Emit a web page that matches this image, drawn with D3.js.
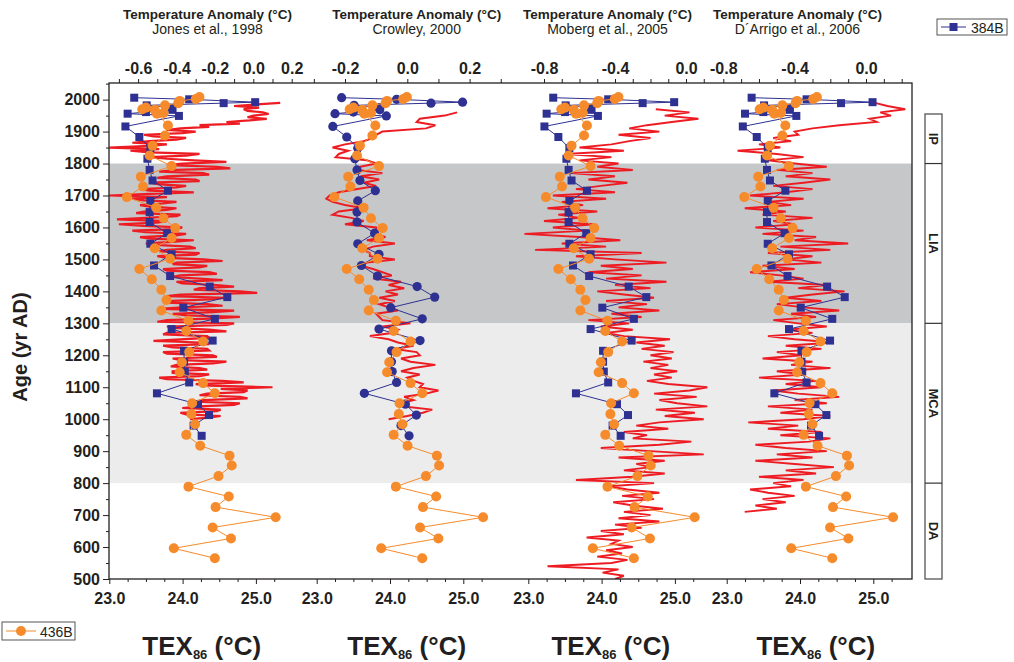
<!DOCTYPE html>
<html>
<head>
<meta charset="utf-8">
<script src="https://cdn.jsdelivr.net/npm/d3@7/dist/d3.min.js"></script>
<style>
  html, body { margin: 0; padding: 0; background: #fff; }
  svg { display: block; }
  text { font-family: "Liberation Sans", Arial, Helvetica, sans-serif; fill: #231f20; }
</style>
</head>
<body>
<svg id="chart" width="1014" height="662"></svg>
<script>
// ---------- Core 384B: TEX86 temperatures (year AD, °C) ----------
const core384BYears = [2006, 2001, 1992, 1989, 1982, 1975, 1968, 1961, 1956, 1949, 1916, 1883, 1848, 1815, 1780, 1747, 1715, 1683, 1648, 1617, 1582, 1549, 1516, 1481, 1448, 1415, 1382, 1349, 1314, 1282, 1246, 1214, 1180, 1149, 1115, 1081, 1047, 1013, 980, 948];
const core384BTex = [23.34, 24.09, 24.99, 24.56, 23.51, 23.86, 23.86, 23.50, 23.25, 23.95, 23.22, 23.41, 23.56, 23.52, 23.55, 23.59, 23.80, 23.56, 23.55, 23.55, 23.79, 23.56, 23.85, 23.61, 23.83, 24.37, 24.61, 24.01, 24.44, 23.85, 24.41, 24.02, 24.02, 24.03, 24.09, 23.65, 24.21, 24.36, 24.15, 24.26];

// ---------- Core 436B: TEX86 temperatures (year AD, °C) ----------
const core436BYears = [2008, 2002, 1996, 1989, 1982, 1975, 1970, 1968, 1958, 1956, 1919, 1888, 1856, 1825, 1792, 1759, 1728, 1695, 1662, 1629, 1598, 1567, 1535, 1502, 1470, 1438, 1405, 1373, 1340, 1308, 1276, 1243, 1210, 1178, 1147, 1113, 1081, 1050, 1016, 984, 951, 917, 886, 855, 822, 789, 758, 725, 693, 661, 627, 596, 565];
const core436BTex = [24.23, 24.18, 23.96, 23.94, 23.76, 23.50, 23.45, 23.62, 23.74, 23.65, 23.80, 23.76, 23.59, 23.55, 23.85, 23.43, 23.46, 23.24, 23.64, 23.74, 23.90, 23.85, 23.62, 23.83, 23.41, 23.58, 23.71, 23.78, 23.71, 24.08, 24.05, 24.28, 24.09, 23.99, 23.96, 24.28, 24.44, 24.13, 24.12, 24.17, 24.05, 24.24, 24.64, 24.67, 24.49, 24.08, 24.63, 24.45, 25.27, 24.41, 24.66, 23.88, 24.44];

// ---------- Northern Hemisphere reconstructions (anomaly °C) ----------
const jonesStart = 1000, jonesStep = 5;
const jonesAnomaly = [
  -0.33, -0.23, -0.17, -0.35, -0.38, -0.19, -0.17, -0.37, -0.28, -0.10,
  -0.07, -0.31, -0.26, -0.03, -0.07, -0.28, -0.24, -0.05, -0.03, -0.17,
   0.10, -0.23, -0.30, -0.05, -0.16, -0.45, -0.49, -0.28, -0.23, -0.42,
  -0.42, -0.24, -0.28, -0.43, -0.40, -0.21, -0.14, -0.38, -0.42, -0.19,
  -0.21, -0.45, -0.47, -0.23, -0.24, -0.42, -0.47, -0.23, -0.28, -0.52,
  -0.38, -0.23, -0.24, -0.47, -0.45, -0.14, -0.23, -0.40, -0.45, -0.14,
  -0.10, -0.50, -0.45, -0.23, -0.07, -0.35, -0.42, -0.21, -0.10, -0.49,
  -0.37, -0.16, -0.24, -0.45, -0.42, -0.23, -0.14, -0.45, -0.38,  0.02,
  -0.07, -0.31, -0.28, -0.10, -0.19, -0.37, -0.40, -0.16, -0.28, -0.43,
  -0.38, -0.19, -0.23, -0.45, -0.47, -0.28, -0.24, -0.42, -0.40, -0.16,
  -0.26, -0.45, -0.50, -0.30, -0.28, -0.49, -0.45, -0.30, -0.33, -0.49,
  -0.56, -0.42, -0.31, -0.54, -0.59, -0.40, -0.35, -0.56, -0.63, -0.40,
  -0.37, -0.57, -0.70, -0.50, -0.45, -0.71, -0.56, -0.40, -0.38, -0.61,
  -0.57, -0.45, -0.40, -0.54, -0.59, -0.47, -0.40, -0.57, -0.63, -0.45,
  -0.75, -0.54, -0.31, -0.54, -0.59, -0.40, -0.35, -0.49, -0.54, -0.28,
  -0.30, -0.50, -0.45, -0.23, -0.26, -0.49, -0.40, -0.12, -0.19, -0.45,
  -0.37, -0.14, -0.31, -0.45, -0.54, -0.35, -0.28, -0.54, -0.64, -0.49,
  -0.75, -0.54, -0.45, -0.63, -0.54, -0.40, -0.35, -0.52, -0.57, -0.37,
  -0.30, -0.45, -0.38, -0.23, -0.28, -0.07, -0.14, -0.02,  0.07, -0.03,
   0.00,  0.08,  0.05, -0.03, -0.05,  0.03, -0.10,  0.02,  0.14
];

const crowleyStart = 1000, crowleyStep = 10;
const crowleyAnomaly = [
  -0.06, 0.00, 0.05, 0.08, -0.01, -0.02, 0.02, -0.01, 0.06, 0.10,
   0.04, 0.05, 0.02, 0.00, 0.04, -0.02, 0.02, 0.09, 0.01, -0.02,
   0.04, 0.03, -0.04, 0.02, -0.03, -0.06, -0.12, -0.05, -0.03, -0.08,
   0.01, -0.08, -0.09, -0.10, -0.03, -0.06, -0.09, -0.04, -0.09, -0.03,
  -0.07, -0.01, -0.06, -0.02, -0.11, -0.05, -0.08, -0.11, -0.15, -0.13,
  -0.04, -0.12, -0.12, -0.14, -0.11, -0.04, -0.13, -0.07, -0.11, -0.10,
  -0.10, -0.20, -0.14, -0.18, -0.24, -0.22, -0.14, -0.20, -0.24, -0.26,
  -0.25, -0.22, -0.16, -0.10, -0.14, -0.09, -0.15, -0.08, -0.16, -0.15,
  -0.10, -0.13, -0.23, -0.22, -0.19, -0.24, -0.20, -0.14, -0.11, -0.10,
  -0.08, 0.06, 0.09, 0.03, 0.04, 0.12, 0.16
];

const mobergStart = 500, mobergStep = 10;
const mobergAnomaly = [
  -0.40, -0.35, -0.47, -0.38, -0.78, -0.42, -0.33, -0.50, -0.36, -0.45,
  -0.30, -0.42, -0.38, -0.56, -0.35, -0.48, -0.25, -0.40, -0.15, -0.38,
  -0.20, -0.35, -0.13, -0.30, -0.41, -0.18, -0.36, -0.15, -0.33, -0.43,
  -0.18, -0.62, -0.30, -0.12, -0.35, -0.20, -0.28, -0.12, -0.38,  0.10,
  -0.20, -0.48, -0.15,  0.03, -0.30, -0.22, -0.35, -0.10, -0.28, -0.15,
   0.10, -0.12,  0.05, -0.17,  0.12, -0.05, -0.15,  0.06, -0.18,  0.02,
   0.12, -0.10, -0.22, -0.08, -0.18, -0.05, -0.20, -0.10, -0.24, -0.08,
  -0.20, -0.07, -0.25, -0.12, -0.28, -0.09, -0.35, -0.45, -0.30, -0.48,
  -0.32, -0.55, -0.25, -0.42, -0.15, -0.38, -0.22, -0.45, -0.18, -0.35,
  -0.50, -0.20, -0.40, -0.11, -0.45, -0.25, -0.55, -0.30, -0.48, -0.11,
  -0.40, -0.62, -0.25, -0.85, -0.45, -0.70, -0.37, -0.60, -0.91, -0.55,
  -0.75, -0.52, -0.80, -0.60, -0.72, -0.50, -0.78, -0.58, -0.70, -0.45,
  -0.75, -0.40, -0.62, -0.48, -0.33, -0.55, -0.40, -0.65, -0.30, -0.50,
  -0.38, -0.60, -0.42, -0.68, -0.35, -0.60, -0.42, -0.32, -0.20, -0.38,
  -0.15, -0.32, -0.22, -0.08,  0.07, -0.12,  0.02, -0.17
];

const darrigoStart = 710, darrigoStep = 10;
const darrigoAnomaly = [
  -0.68, -0.50, -0.62, -0.45, -0.58, -0.40, -0.55, -0.65, -0.42, -0.52,
  -0.35, -0.60, -0.28, -0.45, -0.18, -0.40, -0.62, -0.30, -0.50, -0.22,
  -0.45, -0.62, -0.32, -0.20, -0.48, -0.25, -0.55, -0.38, -0.66, -0.35,
  -0.20, -0.48, -0.30, -0.55, -0.22, -0.40, -0.15, -0.38, -0.52, -0.25,
  -0.45, -0.28, -0.60, -0.35, -0.50, -0.20, -0.42, -0.30, -0.58, -0.36,
  -0.50, -0.25, -0.45, -0.18, -0.40, -0.55, -0.30, -0.45, -0.22, -0.38,
  -0.52, -0.28, -0.42, -0.15, -0.35, -0.50, -0.25, -0.45, -0.30, -0.12,
  -0.38, -0.22, -0.55, -0.35, -0.48, -0.65, -0.40, -0.58, -0.25, -0.45,
  -0.30, -0.55, -0.20, -0.48, -0.10, -0.40, -0.28, -0.58, -0.35, -0.62,
  -0.40, -0.52, -0.30, -0.58, -0.45, -0.68, -0.42, -0.55, -0.35, -0.65,
  -0.45, -0.30, -0.52, -0.35, -0.20, -0.45, -0.30, -0.50, -0.22, -0.40,
  -0.55, -0.35, -0.50, -0.72, -0.48, -0.60, -0.42, -0.52, -0.38, -0.40,
  -0.30, -0.15,  0.06,  0.02,  0.14,  0.08,  0.22,  0.12,  0.05
];

// ---------- Labels and tick values ----------
const panelHeader = "Temperature Anomaly (°C)";
const panelSources = ["Jones et al., 1998", "Crowley, 2000", "Moberg et al., 2005", "D´Arrigo et al., 2006"];
const ageTicks = [500, 600, 700, 800, 900, 1000, 1100, 1200, 1300, 1400, 1500, 1600, 1700, 1800, 1900, 2000];
const texTickLabels = [23, 24, 25];
const anomalyTickLabels = [[-0.6, -0.4, -0.2, 0.0, 0.2], [-0.2, 0.0, 0.2], [-0.8, -0.4, 0.0], [-0.8, -0.4, 0.0]];
const periodNames = ["IP", "LIA", "MCA", "DA"];
const periodBounds = [1955, 1800, 1300, 800, 500];
const shadedPeriods = [{ from: 1300, to: 1800, fill: "#c6c7c9" }, { from: 800, to: 1300, fill: "#ececec" }];

// ---------- Layout ----------
const INK = "#231f20", RED = "#ed1c24", BLUE = "#2e3192", ORANGE = "#f68b2c";
const frame = { left: 109, right: 912, top: 83, bottom: 579 };
const svg = d3.select("#chart");
const y = d3.scaleLinear().domain([500, 2052]).range([frame.bottom, frame.top]);

const series = (start, step, values) => values.map((v, i) => ({ year: start + i * step, v }));

const panels = [
  { tex0: 109.3, anom: d3.scaleLinear().domain([0, 0.2]).range([253.3, 291.7]), ticks: [-0.7, 0.2],
    red: series(jonesStart, jonesStep, jonesAnomaly), redWidth: 2.2, blueShape: "square", head: 207.5, foot: 201.7 },
  { tex0: 316.7, anom: d3.scaleLinear().domain([0, 0.2]).range([407.3, 469.6]), ticks: [-0.3, 0.3],
    red: series(crowleyStart, crowleyStep, crowleyAnomaly), redWidth: 2.0, blueShape: "circle", head: 416.7, foot: 406.7 },
  { tex0: 528.3, anom: d3.scaleLinear().domain([-0.8, 0]).range([544, 686]), ticks: [-0.8, 0.1],
    red: series(mobergStart, mobergStep, mobergAnomaly), redWidth: 1.9, blueShape: "square", head: 607.5, foot: 610.8 },
  { tex0: 726.7, anom: d3.scaleLinear().domain([-0.8, 0]).range([723.3, 866]), ticks: [-0.8, 0.2],
    red: series(darrigoStart, darrigoStep, darrigoAnomaly), redWidth: 1.9, blueShape: "square", head: 797.5, foot: 815.8 }
];
panels.forEach((p, i) => {
  p.tex = d3.scaleLinear().domain([23, 25]).range([p.tex0, p.tex0 + 146.6]);
  p.labels = anomalyTickLabels[i];
  p.source = panelSources[i];
});

const fmt1 = d => (Math.abs(d) < 1e-9 ? 0 : d).toFixed(1);
const styleAxis = g => {
  g.select(".domain").remove();
  g.selectAll("line").attr("stroke", INK);
  g.selectAll("text").attr("font-size", 16).attr("font-weight", "bold").attr("fill", INK)
    .attr("font-family", "'Liberation Sans', Arial, sans-serif");
};

// soft edge for the reconstruction curves
const defs = svg.append("defs");
defs.append("filter").attr("id", "soft").append("feGaussianBlur").attr("stdDeviation", 0.35);
defs.append("clipPath").attr("id", "plotClip").append("rect")
  .attr("x", frame.left).attr("y", frame.top)
  .attr("width", frame.right - frame.left).attr("height", frame.bottom - frame.top);

// ---------- Period shading ----------
svg.append("g").selectAll("rect").data(shadedPeriods).join("rect")
  .attr("x", frame.left).attr("width", frame.right - frame.left)
  .attr("y", d => y(d.to)).attr("height", d => y(d.from) - y(d.to))
  .attr("fill", d => d.fill);

// ---------- Panels ----------
const plot = svg.append("g").attr("clip-path", "url(#plotClip)");
panels.forEach(p => {
  // reconstruction
  plot.append("path")
    .datum(p.red)
    .attr("fill", "none").attr("stroke", RED).attr("stroke-width", p.redWidth)
    .attr("stroke-linejoin", "miter").attr("filter", "url(#soft)")
    .attr("d", d3.line().x(d => p.anom(d.v)).y(d => y(d.year)));

  // core 384B
  const blue = core384BYears.map((yr, i) => ({ year: yr, t: core384BTex[i] }));
  plot.append("path").datum(blue)
    .attr("fill", "none").attr("stroke", BLUE).attr("stroke-width", 1)
    .attr("d", d3.line().x(d => p.tex(d.t)).y(d => y(d.year)));
  if (p.blueShape === "square") {
    plot.append("g").selectAll("rect").data(blue).join("rect")
      .attr("x", d => p.tex(d.t) - 4).attr("y", d => y(d.year) - 4)
      .attr("width", 8).attr("height", 8).attr("fill", BLUE);
  } else {
    plot.append("g").selectAll("circle").data(blue).join("circle")
      .attr("cx", d => p.tex(d.t)).attr("cy", d => y(d.year)).attr("r", 4.6).attr("fill", BLUE);
  }

  // core 436B
  const orange = core436BYears.map((yr, i) => ({ year: yr, t: core436BTex[i] }));
  plot.append("path").datum(orange)
    .attr("fill", "none").attr("stroke", ORANGE).attr("stroke-width", 1)
    .attr("d", d3.line().x(d => p.tex(d.t)).y(d => y(d.year)));
  plot.append("g").selectAll("circle").data(orange).join("circle")
    .attr("cx", d => p.tex(d.t)).attr("cy", d => y(d.year)).attr("r", 5).attr("fill", ORANGE);

  // bottom TEX86 axis: labelled whole degrees and quarter-degree minor ticks
  svg.append("g").attr("transform", `translate(0,${frame.bottom})`)
    .call(d3.axisBottom(p.tex).tickValues(texTickLabels).tickFormat(fmt1).tickSize(5).tickPadding(9))
    .call(styleAxis);
  svg.append("g").attr("transform", `translate(0,${frame.bottom})`)
    .call(d3.axisBottom(p.tex).tickValues([23.25, 23.5, 23.75, 24.25, 24.5, 24.75, 25.25]).tickFormat("").tickSize(3))
    .call(styleAxis);

  // top anomaly axis
  const tickVals = d3.range(Math.round(p.ticks[0] * 10), Math.round(p.ticks[1] * 10) + 1).map(k => k / 10);
  svg.append("g").attr("transform", `translate(0,${frame.top})`)
    .call(d3.axisTop(p.anom).tickValues(tickVals)
      .tickFormat(d => p.labels.some(l => Math.abs(l - d) < 1e-9) ? fmt1(d) : "")
      .tickSize(4).tickPadding(5))
    .call(styleAxis);

  // headers
  svg.append("text").attr("x", p.head).attr("y", 19).attr("text-anchor", "middle")
    .attr("font-size", 13.5).attr("font-weight", "bold").text(panelHeader);
  svg.append("text").attr("x", p.head).attr("y", 34).attr("text-anchor", "middle")
    .attr("font-size", 14).text(p.source);

  // TEX86 axis title
  const t = svg.append("text").attr("x", p.foot).attr("y", 655).attr("text-anchor", "middle")
    .attr("font-size", 26).attr("font-weight", "bold");
  t.append("tspan").text("TEX");
  t.append("tspan").attr("font-size", 13).attr("dy", 4).text("86");
  t.append("tspan").attr("dy", -4).text(" (°C)");
});

// ---------- Age axis ----------
svg.append("g").attr("transform", `translate(${frame.left},0)`)
  .call(d3.axisLeft(y).tickValues(ageTicks).tickFormat(d3.format("d")).tickSize(6).tickPadding(3))
  .call(styleAxis);
svg.append("g").attr("transform", `translate(${frame.left},0)`)
  .call(d3.axisLeft(y).tickValues(ageTicks.map(a => a + 50)).tickFormat("").tickSize(3))
  .call(styleAxis);

svg.append("text").attr("transform", "translate(27,347) rotate(-90)").attr("text-anchor", "middle")
  .attr("font-size", 20).attr("font-weight", "bold").text("Age (yr AD)");

// ---------- Frame ----------
svg.append("rect").attr("x", frame.left).attr("y", frame.top)
  .attr("width", frame.right - frame.left).attr("height", frame.bottom - frame.top)
  .attr("fill", "none").attr("stroke", INK).attr("stroke-width", 1.3);

// ---------- Climate period bar ----------
const bar = svg.append("g");
const barX = 925, barW = 17;
bar.append("rect").attr("x", barX).attr("y", y(periodBounds[0]))
  .attr("width", barW).attr("height", y(periodBounds[4]) - y(periodBounds[0]))
  .attr("fill", "none").attr("stroke", "#555").attr("stroke-width", 1.3);
bar.selectAll("line").data(periodBounds.slice(1, 4)).join("line")
  .attr("x1", barX).attr("x2", barX + barW).attr("y1", d => y(d)).attr("y2", d => y(d))
  .attr("stroke", "#333").attr("stroke-width", 1.2);
bar.selectAll("text").data(periodNames).join("text")
  .attr("transform", (d, i) => `translate(${barX + barW / 2},${(y(periodBounds[i]) + y(periodBounds[i + 1])) / 2}) rotate(90)`)
  .attr("text-anchor", "middle").attr("dy", "0.35em")
  .attr("font-size", 13).attr("font-weight", "bold").text(d => d);

// ---------- Legends ----------
const leg1 = svg.append("g").attr("transform", "translate(937,19)");
leg1.append("rect").attr("width", 70).attr("height", 16).attr("fill", "#fff").attr("stroke", "#555");
leg1.append("line").attr("x1", 4).attr("x2", 29).attr("y1", 8).attr("y2", 8).attr("stroke", BLUE);
leg1.append("rect").attr("x", 12.5).attr("y", 4).attr("width", 8).attr("height", 8).attr("fill", BLUE);
leg1.append("text").attr("x", 34).attr("y", 13.5).attr("font-size", 14).text("384B");

const leg2 = svg.append("g").attr("transform", "translate(2,622)");
leg2.append("rect").attr("width", 73).attr("height", 18).attr("fill", "#fff").attr("stroke", "#555");
leg2.append("line").attr("x1", 4).attr("x2", 34).attr("y1", 9).attr("y2", 9).attr("stroke", ORANGE);
leg2.append("circle").attr("cx", 19).attr("cy", 9).attr("r", 5).attr("fill", ORANGE);
leg2.append("text").attr("x", 38).attr("y", 14.5).attr("font-size", 14).text("436B");
</script>
</body>
</html>
